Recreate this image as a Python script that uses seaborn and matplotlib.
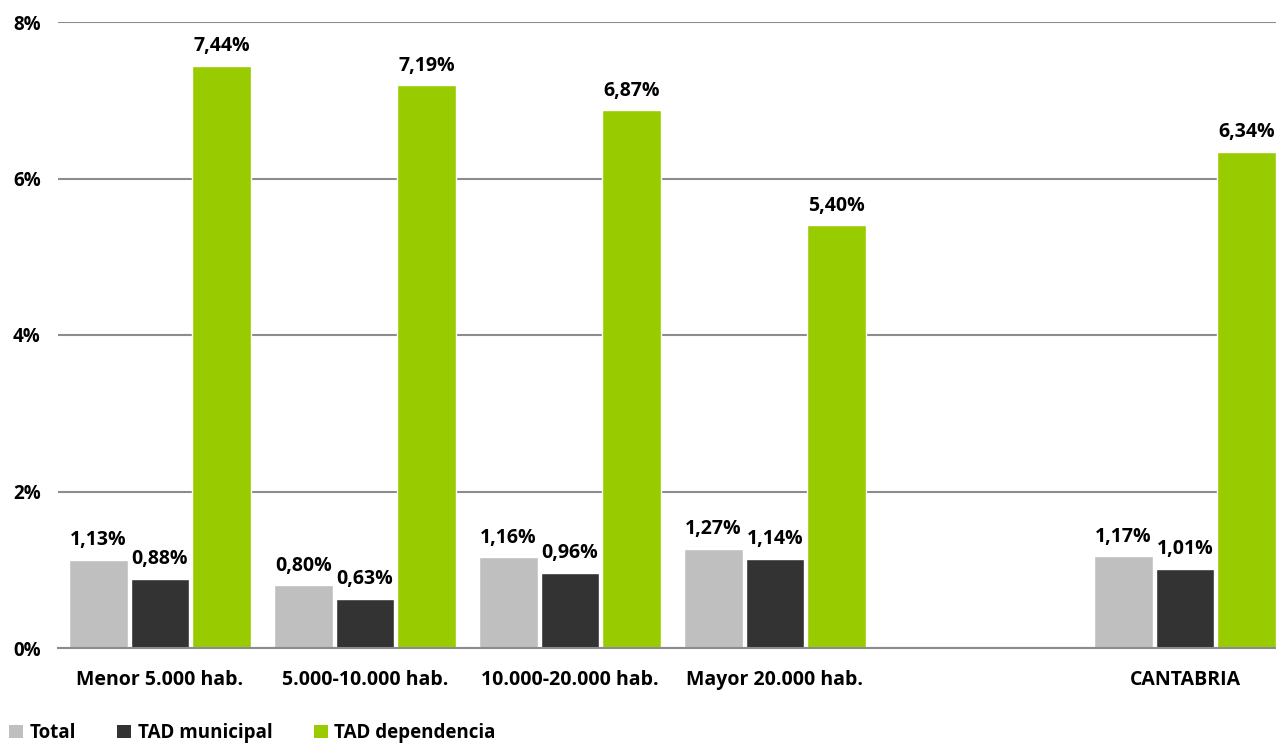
import numpy as np
import pandas as pd
import matplotlib
matplotlib.use("Agg")
import matplotlib.pyplot as plt
from matplotlib.patches import Patch
import seaborn as sns

# --- données ---
categorias = ["Menor 5.000 hab.", "5.000-10.000 hab.", "10.000-20.000 hab.",
              "Mayor 20.000 hab.", "CANTABRIA"]
total = [1.13, 0.80, 1.16, 1.27, 1.17]
tad_municipal = [0.88, 0.63, 0.96, 1.14, 1.01]
tad_dependencia = [7.44, 7.19, 6.87, 5.40, 6.34]
series = ["Total", "TAD municipal", "TAD dependencia"]
colores = ["#BFBFBF", "#333333", "#99CC00"]
yticks = [0, 2, 4, 6, 8]

# hueco vacío entre "Mayor 20.000 hab." y "CANTABRIA"
orden = categorias[:4] + [" "] + categorias[4:]

df = pd.DataFrame({
    "Categoria": categorias * 3,
    "Serie": np.repeat(series, len(categorias)),
    "Valor": total + tad_municipal + tad_dependencia,
})

sns.set_theme(style="white")
plt.rcParams["font.family"] = ["Open Sans", "DejaVu Sans"]
plt.rcParams["font.weight"] = "bold"
plt.rcParams["text.color"] = "black"
plt.rcParams["xtick.color"] = "black"
plt.rcParams["ytick.color"] = "black"

fig = plt.figure(figsize=(12.76, 7.44), dpi=100)
ax = fig.add_axes([57.5 / 1276, 96 / 744, (1276 - 57.5) / 1276, 626 / 744])

sns.barplot(data=df, x="Categoria", y="Valor", hue="Serie", order=orden,
            hue_order=series, palette=colores, width=0.9, gap=0.05,
            saturation=1, ax=ax, legend=False)

for cont in ax.containers:
    etiquetas = [f"{b.get_height():.2f}%".replace(".", ",") for b in cont]
    ax.bar_label(cont, labels=etiquetas, padding=7, fontsize=14,
                 fontweight="bold", color="black")

ax.set_ylim(0, 8)
ax.set_xlim(-0.5, -0.5 + (1276 - 57.5) / 205)
ax.set_yticks(yticks)
ax.set_yticklabels([f"{v}%" for v in yticks], fontsize=13.5, fontweight="bold",
                   color="black")
ax.yaxis.grid(True, color="#8C8C8C", linewidth=1.5)
ax.set_axisbelow(True)
for s in ["left", "right", "top"]:
    ax.spines[s].set_visible(False)
ax.spines["bottom"].set_color("#8C8C8C")
ax.spines["bottom"].set_linewidth(1.5)
ax.tick_params(axis="y", length=0, pad=12)
ax.tick_params(axis="x", length=0, pad=16, labelsize=14, labelcolor="black")
for t in ax.get_xticklabels():
    t.set_fontweight("bold")
ax.set_xlabel("")
ax.set_ylabel("")

handles = [Patch(facecolor=c, edgecolor="none", label=s) for s, c in zip(series, colores)]
fig.legend(handles=handles, loc="lower left", bbox_to_anchor=(-0.002, -0.014), ncol=3,
           frameon=False, fontsize=13.5, handlelength=0.75, handleheight=0.75,
           handletextpad=0.35, columnspacing=2.2, borderaxespad=0.2,
           labelcolor="black")

plt.savefig("out.png", dpi=100)
plt.close()
